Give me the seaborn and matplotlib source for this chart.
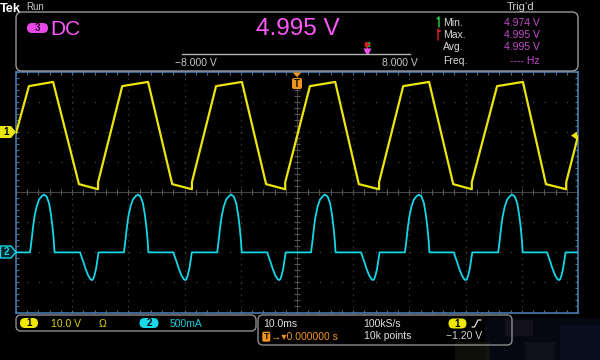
import numpy as np
import matplotlib
matplotlib.use("Agg")
import matplotlib.pyplot as plt
import seaborn as sns
from matplotlib.patches import FancyBboxPatch, Polygon, Rectangle
from matplotlib import font_manager

# Channel 1 (yellow): time [ms] (10 ms/div, trigger at 0), voltage [V] (10 V/div)
ch1_time = [-50.0, -47.7, -43.4, -38.8, -35.4, -35.4, -31.1, -26.5, -22.2, -18.7, -18.7,
            -14.4, -9.8, -5.5, -2.1, -2.1, 2.3, 6.8, 11.0, 14.6, 14.6,
            18.9, 23.5, 27.8, 31.1, 31.1, 35.6, 40.2, 44.3, 47.9, 47.9, 50.0]
ch1_volt = [-0.3, 15.3, 16.7, -17.3, -19.0, -16.7, 15.3, 16.7, -17.3, -19.0, -16.7,
            15.3, 16.7, -17.3, -19.0, -16.7, 15.3, 16.7, -17.3, -19.0, -16.7,
            15.3, 16.7, -17.3, -19.0, -16.7, 15.3, 16.7, -17.3, -19.0, -16.7, -1.3]

# Channel 2 (cyan): current [A] (500 mA/div); positive pulses and negative dips
pulse_start_ms = [-47.5, -30.8, -14.2, 2.5, 19.2, 35.8]
pulse_dt_ms = [0.0, 0.27, 0.53, 0.80, 1.16, 1.60, 2.14, 2.49, 2.94, 3.38, 3.74, 4.00, 4.22, 4.36]
pulse_amp = [0.0, 0.20, 0.42, 0.60, 0.76, 0.88, 0.94, 0.96, 0.93, 0.82, 0.62, 0.42, 0.20, 0.0]
dip_start_ms = [-38.6, -22.0, -5.3, 11.4, 27.9, 44.5]
dip_dt_ms = [0.0, 0.28, 0.59, 0.89, 1.17, 1.48, 1.89, 2.10, 2.30, 2.54, 2.85, 3.08, 3.29]
dip_amp = [0.0, -0.08, -0.16, -0.25, -0.32, -0.39, -0.45, -0.46, -0.45, -0.39, -0.27, -0.13, 0.0]

# measurement readout
meas_value = 4.995
meas_min = 4.974
meas_max = 4.995
meas_avg = 4.995
bar_range = (-8.0, 8.0)
trig_level = -1.20

ch1_scale, ch1_offset = 10.0, 2.0     # V/div, divisions
ch2_scale, ch2_offset = 0.5, -2.0     # A/div, divisions

# ---------------- build channel-2 trace ----------------
events = [(s, pulse_dt_ms, pulse_amp) for s in pulse_start_ms] + \
         [(s, dip_dt_ms, dip_amp) for s in dip_start_ms]
events.sort(key=lambda e: e[0])
ch2_time, ch2_amp = [-50.0], [0.0]
for s, dts, amps in events:
    ch2_time += [s + d for d in dts]
    ch2_amp += list(amps)
ch2_time.append(50.0)
ch2_amp.append(0.0)

# ---------------- style ----------------
sns.set_theme(style="dark", rc={"axes.facecolor": "black", "figure.facecolor": "black"})
names = {f.name for f in font_manager.fontManager.ttflist}
NARROW = "Liberation Sans Narrow" if "Liberation Sans Narrow" in names else "Liberation Sans"
plt.rcParams["font.family"] = ["Liberation Sans", "DejaVu Sans"]
plt.rcParams["lines.scale_dashes"] = False

YEL = "#ece50c"
CYN = "#14d6e6"
MAG = "#ff58ff"
VIO = "#c44cce"
ORG = "#f0961e"
BORDER = "#4878a8"

fig = plt.figure(figsize=(6, 3.6), dpi=100, facecolor="black")

L, R, T, B = 16, 578, 72, 312.5
ax = fig.add_axes([L / 600, 1 - B / 360, (R - L) / 600, (B - T) / 360])
ax.set_facecolor("black")
ax.set_xlim(-50, 50)
ax.set_ylim(-4, 4)
ax.set_xticks(np.arange(-50, 51, 10))
ax.set_yticks(np.arange(-4, 5, 1))
ax.set_xticks(np.arange(-50, 50.1, 2), minor=True)
ax.set_yticks(np.arange(-4, 4.01, 0.2), minor=True)
ax.tick_params(which="both", direction="in", length=2.5, width=0.8, color="#4d6f95",
               top=True, right=True, bottom=True, left=True,
               labelbottom=False, labelleft=False)
ax.xaxis.grid(True, which="major", color="#525252", linestyle=(0, (0.7, 3.62)), linewidth=0.9)
ax.yaxis.grid(True, which="major", color="#525252", linestyle=(0, (0.7, 7.39)), linewidth=0.9)
ax.xaxis.grid(False, which="minor")
ax.yaxis.grid(False, which="minor")
for s in ax.spines.values():
    s.set_visible(True)
    s.set_color(BORDER)
    s.set_linewidth(1.2)

# centre cross with minor ticks
ax.axhline(0, color="#454545", lw=0.8, zorder=1)
ax.axvline(0, color="#46423e", lw=0.8, zorder=1)
yt = np.arange(-4, 4.01, 0.2)
xt = np.arange(-50, 50.1, 2)
ax.plot(np.zeros_like(yt), yt, ls="none", marker="_", ms=4, mew=0.8, color="#555555", zorder=1)
ax.plot(xt, np.zeros_like(xt), ls="none", marker="|", ms=4, mew=0.8, color="#555555", zorder=1)

# traces
sns.lineplot(x=ch1_time, y=[ch1_offset + v / ch1_scale for v in ch1_volt], ax=ax,
             color=YEL, lw=1.6, sort=False, estimator=None, errorbar=None, zorder=4)
sns.lineplot(x=ch2_time, y=[ch2_offset + a / ch2_scale for a in ch2_amp], ax=ax,
             color=CYN, lw=1.3, sort=False, estimator=None, errorbar=None, zorder=4)
ax.set_xlabel("")
ax.set_ylabel("")

# ---------------- overlay (pixel coordinates) ----------------
ov = fig.add_axes([0, 0, 1, 1], zorder=5)
ov.set_xlim(0, 600)
ov.set_ylim(360, 0)
ov.axis("off")
ov.patch.set_alpha(0)


def rbox(x, y, w, h, r, fc="none", ec="none", lw=1.0, z=2):
    p = FancyBboxPatch((x, y), w, h, boxstyle=f"round,pad=0,rounding_size={r}",
                       fc=fc, ec=ec, lw=lw, zorder=z)
    ov.add_patch(p)


def txt(x, y, s, size=7.5, color="#d8d8d8", ha="left", va="baseline", **kw):
    ov.text(x, y, s, fontsize=size, color=color, ha=ha, va=va, **kw)


# header
txt(0, 12, "Tek", size=9.2, color="white", weight="bold")
txt(26, 10.5, "Run", size=7, color="#c8c8c8")
txt(507, 9.5, "Trig\u2019d", size=8, color="#d0d0d0")

# measurement box
rbox(16, 12, 562, 59, 6, ec="#9a9a9a", lw=1.0)
rbox(27, 23, 21, 10, 5, fc="#e848e8")
txt(37.5, 28.3, "3", size=7, color="#300030", ha="center", va="center", weight="bold")
big = 20 if NARROW != "Liberation Sans" else 17.5
dcs = 16 if NARROW != "Liberation Sans" else 15
txt(50, 35, "DC", size=dcs, color=MAG, family=NARROW)
txt(298, 35, f"{meas_value:.3f} V", size=big, color=MAG, ha="center", family=NARROW)
txt(175, 66, f"\u2212{abs(bar_range[0]):.3f} V", size=7.5, color="#c8c8c8")
txt(418, 66, f"{bar_range[1]:.3f} V", size=7.5, color="#c8c8c8", ha="right")

rows = [("Min.", f"{meas_min:.3f} V", 26), ("Max.", f"{meas_max:.3f} V", 37.7),
        ("Avg.", f"{meas_avg:.3f} V", 49.5), ("Freq.", "---- Hz", 64)]
for lab, val, yb in rows:
    txt(443, yb, lab, size=7.5, color="#d8d8d8")
    txt(539.5, yb, val, size=7.5, color=VIO, ha="right")
# min / max flags in the legend
ov.plot([439, 439], [16.5, 27], color="#22c040", lw=1.1)
ov.add_patch(Polygon([(439, 16.5), (436, 18.5), (439, 20.5)], closed=True, fc="#22c040", ec="none"))
ov.plot([438, 438], [29, 40], color="#d02020", lw=1.1)
ov.add_patch(Polygon([(438, 29), (441.5, 31), (438, 33)], closed=True, fc="#d02020", ec="none"))

# range bar with marker
bx = fig.add_axes([182 / 600, 1 - 54 / 360, 228 / 600, 12 / 360], zorder=6)
bx.set_xlim(*bar_range)
bx.set_ylim(0, 12)
bx.patch.set_alpha(0)
bx.grid(False)
for k in ["top", "left", "right"]:
    bx.spines[k].set_visible(False)
bx.spines["bottom"].set_color("#b4b4b4")
bx.spines["bottom"].set_linewidth(1.0)
bx.set_xticks(np.arange(bar_range[0], bar_range[1] + 0.1, 2))
bx.set_yticks([])
bx.tick_params(axis="x", direction="in", length=4, width=1, color="#b4b4b4", labelbottom=False)
bx.plot([meas_min, meas_min], [3, 11], color="#22c040", lw=1.1)
bx.plot([meas_min], [9.8], marker="<", ms=3, color="#22c040", ls="none")
bx.plot([meas_max, meas_max], [3, 11], color="#d02020", lw=1.1)
bx.plot([meas_max], [9.8], marker=">", ms=3, color="#d02020", ls="none")
bx.plot([meas_value], [2.2], marker="v", ms=6, color="#f050f0", mec="none", ls="none")

# channel markers on the left
ov.add_patch(Polygon([(0, 126), (11, 126), (16, 132), (11, 138), (0, 138)], closed=True,
                     fc=YEL, ec="none", zorder=6))
txt(6, 132.3, "1", size=7, color="black", ha="center", va="center", weight="bold", zorder=7)
ov.add_patch(Polygon([(0.5, 246), (11, 246), (16, 252), (11, 258), (0.5, 258)], closed=True,
                     fc="#06262c", ec=CYN, lw=1.0, zorder=6))
txt(6, 252.3, "2", size=7, color=CYN, ha="center", va="center", weight="bold", zorder=7)

# trigger position marker at top, trigger level marker on the right
ov.add_patch(Polygon([(292.5, 72.5), (301.5, 72.5), (297, 77)], closed=True, fc=ORG, ec="none", zorder=6))
rbox(292, 78, 10, 11, 2, fc=ORG, z=6)
txt(297, 83.8, "T", size=7, color="#1a0e00", ha="center", va="center", weight="bold", zorder=7)
ov.add_patch(Polygon([(571, 135.6), (577, 131.6), (577, 139.6)], closed=True, fc=YEL, ec="none", zorder=6))

# ---------------- bottom status bar ----------------
rbox(16, 315, 240, 16, 5, ec="#8c8c8c", lw=1.0)
rbox(20, 318, 18, 10, 5, fc="#f0e800")
txt(29, 323.3, "1", size=7, color="black", ha="center", va="center", weight="bold")
txt(51, 327, f"{ch1_scale:.1f} V", size=7.5, color="#dcd200")
txt(99, 327, "\u03a9", size=7.5, color="#dcd200")
rbox(139.5, 318, 19, 10, 5, fc="#18d8e8")
txt(149, 323.3, "2", size=7, color="black", ha="center", va="center", weight="bold")
txt(170, 327, f"{int(ch2_scale * 1000)}mA", size=7.5, color="#18c8d8")

rbox(258, 315, 254, 30, 5, ec="#8c8c8c", lw=1.0)
txt(263, 327, "10.0ms", size=7.5, color="#e0e0e0")
rbox(262.3, 331.7, 8, 10, 1.5, fc=ORG)
txt(266.3, 336.9, "T", size=6.5, color="#1a0e00", ha="center", va="center", weight="bold")
txt(271, 339.5, "\u2192\u25be0.000000 s", size=7.5, color=ORG)
txt(363, 327, "100kS/s", size=7.5, color="#e0e0e0")
txt(364, 339, "10k points", size=7.5, color="#e0e0e0")
rbox(448.5, 318.5, 18, 10, 5, fc="#f0e800")
txt(457.5, 323.8, "1", size=7, color="black", ha="center", va="center", weight="bold")
ov.plot([472, 474.5, 478, 481], [327, 327, 320, 320], color="#e0e0e0", lw=0.9)
txt(446, 339, f"\u2212{abs(trig_level):.2f} V", size=7.5, color="#d0d0d0")

# blurred watermark patches in the corner
for (x, y, w, h, c, a) in [(485, 318, 115, 42, "#0c1020", 0.55), (455, 342, 35, 18, "#1e1e12", 0.5),
                           (505, 320, 28, 16, "#221a2c", 0.5), (560, 325, 40, 35, "#0c1428", 0.5),
                           (525, 342, 30, 18, "#161a26", 0.5)]:
    ov.add_patch(Rectangle((x, y), w, h, fc=c, ec="none", alpha=a, zorder=1))

fig.savefig("out.png", dpi=100, facecolor="black")
